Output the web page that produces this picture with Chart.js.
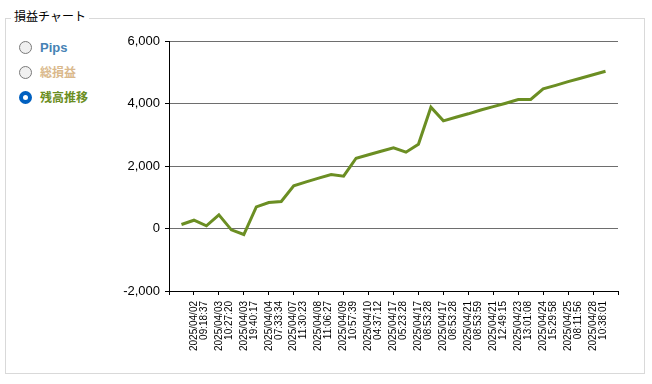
<!DOCTYPE html>
<html>
<head>
<meta charset="utf-8">
<script src="https://cdn.jsdelivr.net/npm/chart.js@4"></script>
<style>
  body { margin: 0; background: #fff; font-family: "Liberation Sans", "Noto Sans CJK JP", sans-serif; }
  #wrap { position: relative; width: 652px; height: 384px; }
  #box { position: absolute; left: 5px; top: 18px; width: 638px; height: 354px; border: 1px solid #d9d9d9; }
  #title { position: absolute; left: 11px; top: 9px; padding: 0 3px; background: #fff; font-size: 12px; line-height: 16px; color: #000; }
  .opt { position: absolute; left: 19px; height: 16px; line-height: 16px; font-weight: bold; font-size: 12px; }
  .opt .dot { position: absolute; left: 0; top: 1px; width: 11px; height: 11px; border: 1px solid #7a7a7a; border-radius: 50%; background: #f0f0f0; }
  .opt.on .dot { width: 5px; height: 5px; border: 4px solid #0060c0; background: #fff; }
  .opt span.t { position: absolute; left: 21px; top: 0; white-space: nowrap; }
  #chart { position: absolute; left: 0; top: 0; }
</style>
</head>
<body>
<div id="wrap">
  <div id="box"></div>
  <div id="title">損益チャート</div>
  <div class="opt" style="top:40px"><div class="dot"></div><span class="t" style="color:#4682b4;font-size:13px">Pips</span></div>
  <div class="opt" style="top:65px"><div class="dot"></div><span class="t" style="color:#dab98c">総損益</span></div>
  <div class="opt on" style="top:90px"><div class="dot"></div><span class="t" style="color:#6b8e23">残高推移</span></div>
  <canvas id="chart" width="652" height="384"></canvas>
</div>
<script>
// balance per trade (35 points), labels shown on every second point
const balance = [128, 265, 85, 437, -43, -192, 693, 832, 864, 1365,
                 1490, 1610, 1728, 1674, 2250, 2360, 2470, 2581, 2442, 2698,
                 3882, 3444, 3560, 3670, 3790, 3900, 4010, 4128, 4128, 4469,
                 4580, 4700, 4810, 4920, 5034];
const tickDates = ['2025/04/02', '2025/04/03', '2025/04/03', '2025/04/04', '2025/04/07', '2025/04/08',
                   '2025/04/09', '2025/04/10', '2025/04/17', '2025/04/17', '2025/04/17', '2025/04/21',
                   '2025/04/21', '2025/04/23', '2025/04/24', '2025/04/25', '2025/04/28'];
const tickTimes = ['09:18:37', '10:27:20', '19:40:17', '07:33:34', '11:30:23', '11:06:27',
                   '10:57:39', '04:37:12', '05:23:28', '08:53:28', '08:53:28', '08:53:59',
                   '12:49:15', '13:01:08', '15:29:58', '08:11:56', '10:38:01'];
const yTicks = [-2000, 0, 2000, 4000, 6000];

const points = balance.map((v, i) => ({ x: i, y: v }));

new Chart(document.getElementById('chart'), {
    type: 'line',
    data: {
        datasets: [{
            data: points,
            borderColor: '#6b8e23',
            borderWidth: 3,
            pointRadius: 0,
            tension: 0,
            fill: false
        }]
    },
    options: {
        responsive: false,
        animation: false,
        layout: { padding: { left: 100, right: 34, top: 41, bottom: 0 } },
        plugins: { legend: { display: false }, tooltip: { enabled: false } },
        scales: {
            x: {
                type: 'linear',
                min: -1,
                max: balance.length,
                afterBuildTicks: s => {
                    s.ticks = [];
                    for (let v = -1; v <= balance.length; v += 2) s.ticks.push({ value: v });
                },
                afterFit: s => { s.height = 93; },
                grid: { drawOnChartArea: false, tickLength: 4, tickColor: '#000' },
                border: { color: '#000', width: 1 },
                ticks: {
                    autoSkip: false,
                    minRotation: 90,
                    maxRotation: 90,
                    padding: 6,
                    color: '#000',
                    font: { family: 'Liberation Sans', size: 10, lineHeight: 1.0 },
                    callback: v => {
                        const k = (v - 1) / 2;
                        return tickDates[k] ? [tickDates[k], tickTimes[k]] : '';
                    }
                }
            },
            y: {
                min: yTicks[0],
                max: yTicks[yTicks.length - 1],
                afterFit: s => { s.width = 69; },
                grid: { color: '#6e6e6e', tickLength: 4, tickColor: '#000', lineWidth: 1 },
                border: { color: '#000', width: 1 },
                ticks: {
                    stepSize: 2000,
                    padding: 5,
                    color: '#000',
                    font: { family: 'Liberation Sans', size: 13 },
                    callback: v => v.toLocaleString('en-US')
                }
            }
        }
    }
});
</script>
</body>
</html>
